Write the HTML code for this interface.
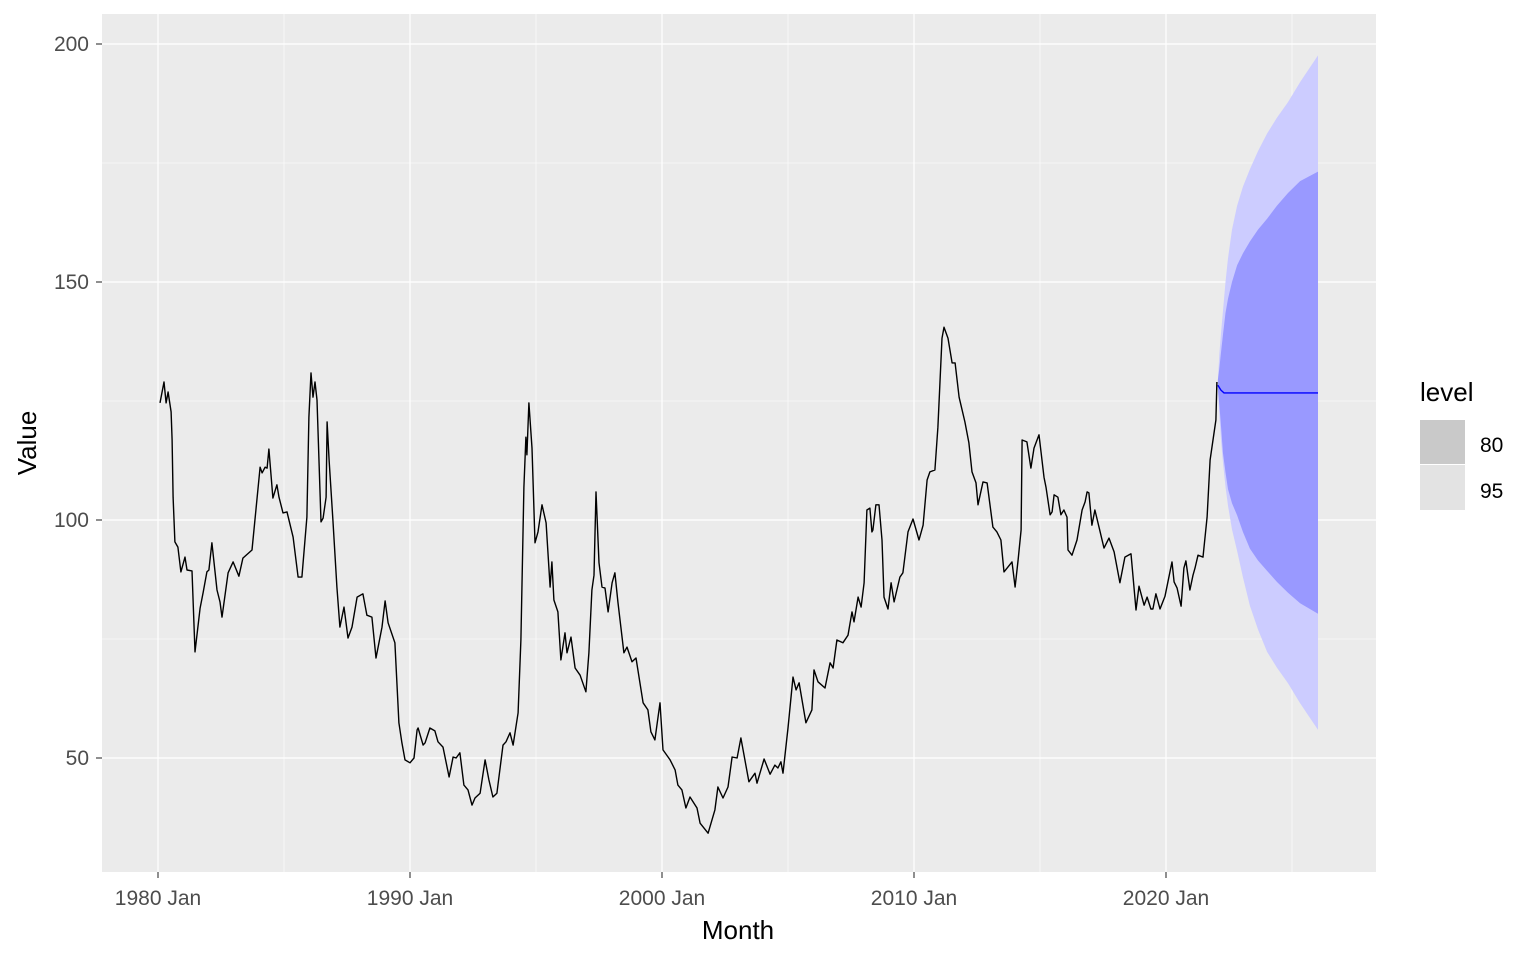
<!DOCTYPE html>
<html><head><meta charset="utf-8"><style>
html,body{margin:0;padding:0;background:#fff;}
svg{display:block;font-family:"Liberation Sans",Arial,sans-serif;}
</style></head><body>
<svg id="chart" width="1536" height="960" viewBox="0 0 1536 960" xmlns="http://www.w3.org/2000/svg">
<rect x="102" y="14" width="1274" height="858" fill="#ebebeb"/>
<g id="grid"></g>
<g id="bands"></g>
<g id="lines"></g>
<g id="axes"></g>
<text x="738" y="939" font-size="26" text-anchor="middle" fill="#000">Month</text>
<text transform="translate(36,443) rotate(-90)" font-size="26" text-anchor="middle" fill="#000">Value</text>
<g>
<text x="1420" y="401" font-size="26" fill="#000">level</text>
<rect x="1420" y="420" width="45" height="44" fill="#c9c9c9"/>
<rect x="1420" y="465" width="45" height="45" fill="#e3e3e3"/>
<text x="1480" y="452" font-size="21" fill="#000">80</text>
<text x="1480" y="498" font-size="21" fill="#000">95</text>
</g>
</svg>
<script>
const xTickYears = [1980, 1990, 2000, 2010, 2020];
const xTickLabels = ["1980 Jan", "1990 Jan", "2000 Jan", "2010 Jan", "2020 Jan"];
const yTicks = [50, 100, 150, 200];
const histT = [0.08,0.24,0.32,0.40,0.52,0.56,0.60,0.67,0.79,0.91,1.07,1.15,1.35,1.47,1.67,1.79,1.94,2.02,2.14,2.34,2.46,2.54,2.78,2.98,3.21,3.37,3.73,4.05,4.13,4.25,4.33,4.40,4.56,4.72,4.80,4.96,5.12,5.36,5.56,5.71,5.91,5.99,6.07,6.15,6.23,6.31,6.47,6.55,6.67,6.71,6.79,6.94,7.10,7.22,7.38,7.54,7.70,7.90,8.13,8.29,8.49,8.65,8.89,9.01,9.13,9.40,9.56,9.68,9.80,10.00,10.16,10.28,
10.32,10.52,10.60,10.79,10.99,11.11,11.31,11.55,11.71,11.83,11.98,12.14,12.30,12.46,12.58,12.78,12.98,13.13,13.29,13.45,13.69,13.81,13.97,14.09,14.29,14.40,14.52,14.60,14.64,14.72,14.84,14.96,15.08,15.24,15.40,15.56,15.63,15.71,15.87,15.99,16.15,16.23,16.39,16.55,16.75,16.98,17.10,17.22,17.30,17.38,17.50,17.62,17.74,17.86,18.02,18.13,18.25,18.49,18.61,18.81,18.97,19.25,19.44,19.56,19.72,19.92,20.04,20.32,20.52,20.63,
20.79,20.95,21.11,21.39,21.51,21.83,22.10,22.22,22.42,22.62,22.78,22.98,23.13,23.29,23.45,23.69,23.77,24.05,24.29,24.48,24.60,24.72,24.80,25.00,25.20,25.32,25.44,25.71,25.95,26.03,26.19,26.47,26.67,26.79,26.94,27.18,27.38,27.54,27.62,27.78,27.90,28.02,28.13,28.25,28.33,28.37,28.49,28.61,28.73,28.81,28.97,29.09,29.21,29.44,29.56,29.76,29.96,30.20,30.36,30.52,30.63,30.83,30.95,31.11,31.19,31.35,31.51,31.63,31.79,
32.02,32.18,32.30,32.46,32.54,32.74,32.90,33.13,33.29,33.45,33.57,33.89,34.01,34.13,34.25,34.29,34.48,34.64,34.76,34.96,35.16,35.24,35.40,35.48,35.56,35.71,35.83,35.95,36.07,36.11,36.27,36.47,36.67,36.79,36.87,36.94,37.06,37.18,37.34,37.54,37.74,37.94,38.17,38.37,38.61,38.81,38.93,39.13,39.25,39.40,39.48,39.60,39.76,39.96,40.24,40.32,40.44,40.60,40.71,40.79,40.95,41.07,41.15,41.27,41.47,41.63,41.75,41.98,42.02];
const histV = [124.6,129.0,124.6,126.9,122.7,116.8,104.8,95.4,94.3,89.1,92.2,89.5,89.3,72.3,81.5,84.7,89.1,89.5,95.2,85.3,82.8,79.6,88.9,91.2,88.2,92.0,93.7,111.1,109.9,111.1,110.9,114.9,104.6,107.4,104.8,101.5,101.7,96.4,88.0,88.0,100.6,121.6,130.9,125.8,129.0,125.2,99.6,100.4,104.8,120.6,112.6,100.0,85.9,77.5,81.7,75.2,77.5,83.8,84.5,80.0,79.6,71.0,77.5,83.0,78.4,74.2,57.4,53.2,49.6,49.0,50.0,55.9,
56.3,52.7,53.2,56.3,55.7,53.4,52.3,46.0,50.2,50.0,51.1,44.3,43.3,40.1,41.6,42.6,49.6,45.4,41.8,42.6,52.7,53.4,55.3,52.7,59.5,74.8,106.9,117.4,113.7,124.6,115.1,95.2,97.5,103.2,99.4,85.9,91.2,83.2,80.7,70.6,76.3,72.1,75.4,68.9,67.4,63.9,72.1,85.3,88.4,105.9,91.0,85.9,85.7,80.7,86.8,88.9,82.8,72.1,73.3,70.2,71.0,61.6,60.1,55.5,53.8,61.6,51.7,49.6,47.5,44.3,
43.3,39.5,41.8,39.5,36.3,34.2,39.1,43.9,41.6,43.9,50.2,50.0,54.2,49.6,45.0,46.8,44.7,49.8,46.6,48.5,47.9,49.2,46.8,56.3,67.0,64.3,65.8,57.4,60.1,68.5,66.0,64.7,70.0,68.9,74.8,74.2,75.8,80.7,78.6,83.8,81.7,86.8,102.1,102.5,97.5,97.9,103.2,103.2,95.8,83.8,81.3,86.8,82.8,88.0,88.9,97.5,100.2,95.8,98.9,108.4,110.1,110.5,119.5,138.2,140.5,138.2,133.0,133.0,125.8,
120.6,116.2,110.1,107.8,103.2,108.0,107.8,98.5,97.5,95.8,89.1,91.2,85.9,91.6,97.9,116.8,116.4,110.9,115.1,117.9,109.0,106.9,101.1,101.7,105.3,104.8,101.1,102.1,100.6,93.7,92.6,95.8,102.1,103.8,105.9,105.7,98.9,102.1,98.5,94.1,96.2,93.3,86.8,92.2,92.9,81.1,86.1,82.1,83.8,81.3,81.3,84.5,81.3,84.0,91.2,87.0,85.7,81.9,89.9,91.4,85.3,88.4,89.9,92.6,92.2,100.6,112.6,121.0,129.0,129.0];
const fcT = [42.06,42.12,42.18,42.26,42.36,42.46,42.62,42.82,43.05,43.33,43.65,44.01,44.4,44.84,45.32,46.03];
const fcUp95 = [129.5,135,139,144,150,155,161,166,170,173.7,177.5,181.2,184.5,187.8,192,197.6];
const fcUp80 = [129.5,132,135,139,143.5,146.5,150,153.5,156,158.5,161,163.3,166,168.7,171.2,173.2];
const fcLo80 = [127.5,124,120,114,110,106.5,103.5,101,97.5,94,91.5,89.3,87,84.7,82.5,80.3];
const fcLo95 = [127.5,122,117,112,107,103,98,93.5,88,82,77,72.3,69,65.7,61.5,55.9];
const meanT = [42.06,42.18,42.30,46.03];
const meanV = [128.3,127.3,126.7,126.7];

const NS = "http://www.w3.org/2000/svg";
function xs(t){ return 158 + t*25.2; }
function xYear(y){ return xs(y-1980); }
function ys(v){ return 758 - (v-50)*4.76; }
function mk(tag, attrs, parent){ const e=document.createElementNS(NS,tag); for(const k in attrs) e.setAttribute(k,attrs[k]); parent.appendChild(e); return e; }

const grid = document.getElementById('grid');
for (let i=0;i<xTickYears.length;i++){
  const l = mk('line',{x1:xYear(xTickYears[i]+5),x2:xYear(xTickYears[i]+5),y1:14,y2:872,stroke:'#fff','stroke-width':0.6},grid);
  
  
}
for (let i=0;i<yTicks.length-1;i++){
  const v=(yTicks[i]+yTicks[i+1])/2;
  const l = mk('line',{x1:102,x2:1376,y1:ys(v),y2:ys(v),stroke:'#fff','stroke-width':0.6},grid);
  
  
}
for (const yr of xTickYears){
  const l = mk('line',{x1:xYear(yr),x2:xYear(yr),y1:14,y2:872,stroke:'#fff','stroke-width':1.2},grid);
  
  
}
for (const v of yTicks){
  const l = mk('line',{x1:102,x2:1376,y1:ys(v),y2:ys(v),stroke:'#fff','stroke-width':1.2},grid);
  
  
}

const bands = document.getElementById('bands');
function band(up, lo, color, name){
  let d='';
  for(let i=0;i<fcT.length;i++) d+=(i?'L':'M')+xs(fcT[i]).toFixed(1)+','+ys(up[i]).toFixed(1);
  for(let i=fcT.length-1;i>=0;i--) d+='L'+xs(fcT[i]).toFixed(1)+','+ys(lo[i]).toFixed(1);
  const p = mk('path',{d:d+'Z',fill:color},bands);
  
  
}
band(fcUp95, fcLo95, '#ccccff', 'band-95');
band(fcUp80, fcLo80, '#9999ff', 'band-80');

const lines = document.getElementById('lines');
let d='';
for(let i=0;i<histT.length;i++) d+=(i?'L':'M')+xs(histT[i]).toFixed(1)+','+ys(histV[i]).toFixed(1);
const hl = mk('path',{d:d,fill:'none',stroke:'#000','stroke-width':1.4,'stroke-linejoin':'round'},lines);


let dm='';
for(let i=0;i<meanT.length;i++) dm+=(i?'L':'M')+xs(meanT[i]).toFixed(1)+','+ys(meanV[i]).toFixed(1);
const ml = mk('path',{d:dm,fill:'none',stroke:'#0000ff','stroke-width':1.4},lines);



const axes = document.getElementById('axes');
for (let i=0;i<xTickYears.length;i++){
  const x=xYear(xTickYears[i]);
  const t = mk('line',{x1:x,x2:x,y1:872,y2:878,stroke:'#333','stroke-width':1.1},axes);
  
  
  const tx = mk('text',{x:x,y:905,'font-size':21,'text-anchor':'middle',fill:'#4d4d4d'},axes);
  tx.textContent = xTickLabels[i];
  
  
}
for (const v of yTicks){
  const y=ys(v);
  const t = mk('line',{x1:96,x2:102,y1:y,y2:y,stroke:'#333','stroke-width':1.1},axes);
  
  
  const tx = mk('text',{x:89,y:y+7,'font-size':21,'text-anchor':'end',fill:'#4d4d4d'},axes);
  tx.textContent = String(v);
  
  
}
</script>
</body></html>
